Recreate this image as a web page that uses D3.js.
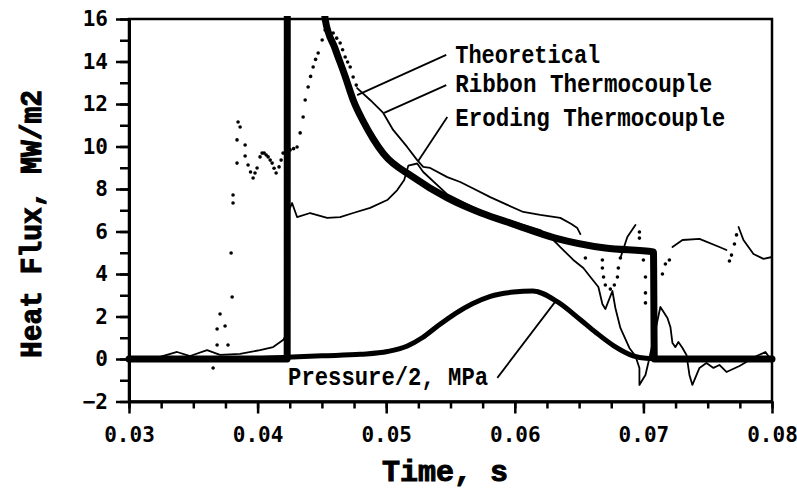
<!DOCTYPE html>
<html>
<head>
<meta charset="utf-8">
<script src="https://cdn.jsdelivr.net/npm/d3@7"></script>
<style>
  body { margin: 0; background: #fff; }
  .tick text { font-family: "DejaVu Sans Mono", monospace; font-weight: bold; font-size: 21px; fill: #000; }
  .lbl { font-family: "Liberation Mono", "Courier New", monospace; font-weight: bold; fill: #000; }
</style>
</head>
<body>
<script>
var W = 797, H = 494;

// axis ticks
var xTicks = [0.03, 0.04, 0.05, 0.06, 0.07, 0.08];
var yTicks = [-2, 0, 2, 4, 6, 8, 10, 12, 14, 16];

// Theoretical (thick line), runs off scale above 16 right after the step
var theoretical = [[0.030,0],[0.0423,0],[0.04231,17.5],[0.0451,17.5],[0.04525,16],[0.04603,14.6],
  [0.04681,13.3],[0.04743,12.19],[0.04820,11.2],[0.04900,10.35],[0.04980,9.65],[0.0521,8.56],[0.05475,7.58],
  [0.05739,6.87],[0.05988,6.35],[0.06315,5.69],[0.06704,5.22],[0.07078,5.04],[0.07085,0],[0.080,0]];

// Pressure/2, MPa
var pressure = [[0.030,0],[0.040,0.02],[0.0423,0.08],[0.045,0.15],[0.048,0.22],[0.0501,0.35],
  [0.0516,0.6],[0.0528,1.0],[0.0540,1.55],[0.0554,2.15],[0.0567,2.6],[0.0581,2.95],[0.0599,3.15],
  [0.0614,3.2],[0.0633,2.7],[0.0651,1.85],[0.0663,1.25],[0.0677,0.62],[0.0692,0.15],[0.0702,0.03],
  [0.0715,0],[0.080,0]];

// Eroding thermocouple
var eroding = [[0.030,0.05],[0.03241,0.1],[0.03374,0.33],[0.03475,0.14],[0.03607,0.42],[0.03708,0.19],
  [0.03864,0.24],[0.04019,0.42],[0.04121,0.56],[0.04198,0.89],[0.0423,1.22],[0.04245,7.01],
  [0.04268,7.34],[0.04307,6.68],[0.04409,6.87],[0.04541,6.64],[0.04642,6.68],[0.04743,6.87],
  [0.04875,7.11],[0.05008,7.48],[0.05086,7.95],[0.0514,8.42],[0.05172,9.1],[0.05241,9.2],[0.05288,8.8],
  [0.05475,7.75],[0.05739,6.95],[0.05988,6.45],[0.06198,6.07],[0.063,5.6],[0.06354,5.27],
  [0.06455,4.66],[0.06533,4.28],[0.06588,3.86],[0.0665,3.39],[0.06681,2.59],[0.06704,2.35],
  [0.06759,3.2],[0.06782,2.4],[0.06821,1.46],[0.06891,0.52],[0.06938,0.14],[0.06969,-0.42],
  [0.06969,-1.22],[0.06992,-0.99],[0.07016,-0.75],[0.07047,0.05],[0.07132,2.45],[0.07187,1.93],
  [0.0721,1.51],[0.07226,0.75],[0.07249,0.56],[0.07272,0.8],[0.07304,0.52],[0.07335,0.19],
  [0.07358,-0.75],[0.07381,-1.22],[0.07436,-0.42],[0.0749,-0.19],[0.07545,-0.42],[0.07591,-0.28],
  [0.07646,-0.61],[0.07747,-0.33],[0.0788,0.14],[0.07949,0.33],[0.0800,-0.1]];

// Ribbon thermocouple: solid stretches and separate points
var ribbonTrace = [
  [[0.030,0.05],[0.0365,0.05]],
  [[0.04774,12.75],[0.04875,12.19],[0.04977,11.58],[0.05054,10.78],[0.05163,9.98],[0.05241,9.36],
   [0.05288,9.04],[0.05342,8.99],[0.05475,8.56],[0.05576,8.33],[0.05669,8.05],[0.05809,7.62],
   [0.05942,7.25],[0.06066,6.92],[0.06198,6.78],[0.06354,6.64],[0.0644,6.35],[0.06486,6.16],[0.0651,5.88]],
  [[0.06821,4.75],[0.06875,5.74],[0.06938,6.31]],
  [[0.07226,5.27],[0.07304,5.6],[0.07436,5.65],[0.07591,5.27],[0.07646,5.13]],
  [[0.0774,6.21],[0.07778,5.6],[0.07856,4.94],[0.07934,4.71],[0.0800,4.8]]
];
var ribbonDots = [[0.03654,-0.42],[0.03685,0.66],[0.0377,0.66],[0.03685,1.41],[0.03747,1.55],[0.03708,2.12],
  [0.03802,2.92],[0.03794,4.99],[0.03809,7.34],[0.03809,7.72],[0.0384,9.22],[0.0384,10.31],[0.03848,11.15],
  [0.03864,10.92],[0.03903,10.07],[0.03903,9.55],[0.03926,9.13],[0.03945,8.8],[0.03965,8.52],[0.0398,8.75],
  [0.03996,8.99],[0.04019,9.51],[0.04035,9.69],[0.04051,9.69],[0.04067,9.6],[0.04082,9.51],[0.04098,9.36],
  [0.04113,9.22],[0.04128,8.98],[0.04144,8.75],[0.04167,9.04],[0.04183,9.36],[0.04198,9.69],[0.04225,9.8],
  [0.04253,9.84],[0.0428,9.9],[0.04307,9.98],[0.04331,10.64],[0.04354,11.39],[0.0437,12.19],[0.04393,12.8],
  [0.04412,13.3],[0.04432,13.74],[0.04451,14.1],[0.04471,14.4],[0.04502,15.01],[0.04525,15.48],[0.04541,15.81],
  [0.04588,15.34],[0.04615,15.1],[0.04642,14.87],[0.04661,14.55],[0.04681,14.21],[0.047,13.98],[0.0472,13.74],
  [0.04743,13.27],[0.04767,12.89],
  [0.06549,4.75],[0.06681,4.66],[0.06681,4.28],[0.0669,3.86],[0.06704,3.48],[0.06743,3.29],[0.06774,3.48],
  [0.06798,3.86],[0.06805,4.28],[0.06821,4.75],[0.06969,5.98],[0.06969,5.69],[0.07,4.66],[0.07016,3.86],
  [0.07016,3.11],[0.07016,2.64],[0.07148,4.0],[0.07171,4.47],[0.07202,4.66],[0.07669,4.61],[0.07685,4.89],
  [0.07708,5.41],[0.07724,5.84]];

// curve labels: text, anchor (t, q), leader from, leader to
var labelNames = ["Theoretical", "Ribbon Thermocouple", "Eroding Thermocouple", "Pressure/2, MPa"];
var labelAt = [[0.05537,13.93],[0.05537,12.56],[0.05537,10.96],[0.04237,-1.22]];
var labelLen = [145, 257, 270, 200];
var leaderFrom = [[0.05467,14.31],[0.05467,12.89],[0.05475,11.39],[0.05864,-0.89]];
var leaderTo = [[0.04774,12.42],[0.04984,11.58],[0.05249,9.32],[0.06315,2.7]];

var svg = d3.select('body').append('svg')
  .attr('width', W).attr('height', H);

var x = d3.scaleLinear().domain([0.03, 0.08]).range([129, 772]);
var y = d3.scaleLinear().domain([-2, 16]).range([401.5, 19]);

svg.append('clipPath').attr('id', 'plotclip').append('rect')
  .attr('x', x(0.03) - 10).attr('y', y(16) - 3)
  .attr('width', x(0.08) - x(0.03) + 20).attr('height', y(-2) - y(16) + 3);

// frame
svg.append('rect')
  .attr('x', x(0.03)).attr('y', y(16))
  .attr('width', x(0.08) - x(0.03)).attr('height', y(-2) - y(16))
  .attr('fill', 'none').attr('stroke', '#000').attr('stroke-width', 2.5);

// minor ticks
svg.append('g').attr('transform', 'translate(0,' + y(-2) + ')')
  .call(d3.axisBottom(x).tickValues(d3.range(0.03, 0.0801, 0.0025)).tickSize(7).tickSizeOuter(0).tickFormat(''))
  .call(function(g){ g.select('.domain').remove(); g.selectAll('line').attr('stroke-width', 2.5); });
svg.append('g').attr('transform', 'translate(' + x(0.03) + ',0)')
  .call(d3.axisLeft(y).tickValues(d3.range(-2, 16.1, 1)).tickSize(9).tickSizeOuter(0).tickFormat(''))
  .call(function(g){ g.select('.domain').remove(); g.selectAll('line').attr('stroke-width', 2.5); });

// major axes
svg.append('g').attr('transform', 'translate(0,' + y(-2) + ')')
  .call(d3.axisBottom(x).tickValues(xTicks).tickSize(12).tickSizeOuter(0).tickPadding(14).tickFormat(d3.format('.2f')))
  .call(function(g){
    g.select('.domain').attr('stroke-width', 3);
    g.selectAll('line').attr('stroke-width', 2.5);
  });
svg.append('g').attr('transform', 'translate(' + x(0.03) + ',0)')
  .call(d3.axisLeft(y).tickValues(yTicks).tickSize(13).tickSizeOuter(0).tickPadding(8))
  .call(function(g){
    g.select('.domain').attr('stroke-width', 3);
    g.selectAll('line').attr('stroke-width', 2.5);
  });

var line = d3.line().x(function(d){ return x(d[0]); }).y(function(d){ return y(d[1]); });
var smooth = d3.line().curve(d3.curveMonotoneX).x(function(d){ return x(d[0]); }).y(function(d){ return y(d[1]); });

var plot = svg.append('g')
  .attr('clip-path', 'url(#plotclip)')
  .attr('fill', 'none').attr('stroke', '#000')
  .attr('stroke-linejoin', 'round').attr('stroke-linecap', 'round');

plot.append('path').attr('d', smooth(pressure)).attr('stroke-width', 5);
plot.append('path').attr('d', line(eroding)).attr('stroke-width', 1.8);
plot.selectAll('.rib').data(ribbonTrace).enter().append('path')
  .attr('class', 'rib').attr('d', line).attr('stroke-width', 1.8);
plot.append('path').attr('d', smooth(theoretical)).attr('stroke-width', 7);

svg.append('g').selectAll('circle').data(ribbonDots).enter().append('circle')
  .attr('cx', function(d){ return x(d[0]); })
  .attr('cy', function(d){ return y(d[1]); })
  .attr('r', 1.8).attr('fill', '#000');

// leaders and curve labels
svg.append('g').selectAll('line').data(labelNames).enter().append('line')
  .attr('x1', function(d, i){ return x(leaderFrom[i][0]); })
  .attr('y1', function(d, i){ return y(leaderFrom[i][1]); })
  .attr('x2', function(d, i){ return x(leaderTo[i][0]); })
  .attr('y2', function(d, i){ return y(leaderTo[i][1]); })
  .attr('stroke', '#000').attr('stroke-width', 1.8);

svg.append('g').selectAll('text').data(labelNames).enter().append('text')
  .attr('class', 'lbl')
  .attr('x', function(d, i){ return x(labelAt[i][0]); })
  .attr('y', function(d, i){ return y(labelAt[i][1]); })
  .attr('font-size', 25)
  .attr('textLength', function(d, i){ return labelLen[i]; })
  .attr('lengthAdjust', 'spacingAndGlyphs')
  .text(function(d){ return d; });

// axis titles
svg.append('text').attr('class', 'lbl')
  .attr('x', 445).attr('y', 481)
  .attr('text-anchor', 'middle').attr('font-size', 30)
  .attr('stroke', '#000').attr('stroke-width', 1)
  .attr('textLength', 126).attr('lengthAdjust', 'spacingAndGlyphs')
  .text('Time, s');

svg.append('text').attr('class', 'lbl')
  .attr('transform', 'translate(41,224) rotate(-90)')
  .attr('text-anchor', 'middle').attr('font-size', 29)
  .attr('stroke', '#000').attr('stroke-width', 1)
  .attr('textLength', 268).attr('lengthAdjust', 'spacingAndGlyphs')
  .text('Heat Flux, MW/m2');
</script>
</body>
</html>
